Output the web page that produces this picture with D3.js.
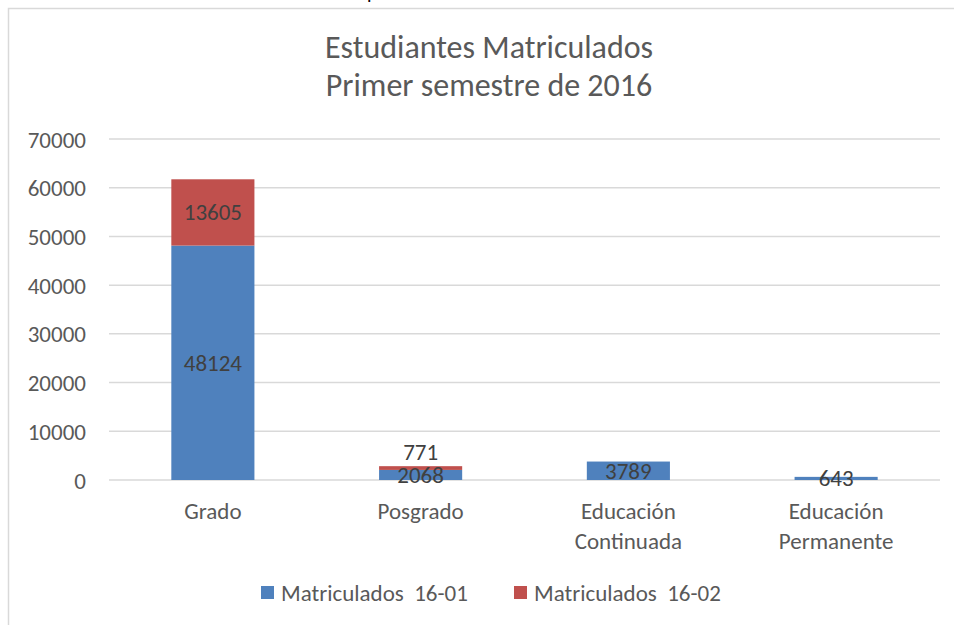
<!DOCTYPE html>
<html><head><meta charset="utf-8">
<script src="https://cdn.jsdelivr.net/npm/d3@7"></script>
<style>
html,body{margin:0;padding:0;background:#fff;overflow:hidden}
text{font-family:Carlito,Calibri,"Liberation Sans Narrow","Open Sans",sans-serif}
</style></head>
<body>
<svg id="c" width="954" height="625"></svg>
<script>
const categories = [["Grado"],["Posgrado"],["Educación","Continuada"],["Educación","Permanente"]];
const seriesNames = ["Matriculados  16-01","Matriculados  16-02"];
const series1 = [48124, 2068, 3789, 643];
const series2 = [13605, 771, 0, 0];
const yTicks = [0,10000,20000,30000,40000,50000,60000,70000];
const titleLines = ["Estudiantes Matriculados","Primer semestre de 2016"];
const colors = ["#4f81bd","#c0504d"];

const FS = 23;
const svg = d3.select("#c");
// chart frame
svg.append("rect").attr("x",8.5).attr("y",8.5).attr("width",960).attr("height",640)
  .attr("fill","#fff").attr("stroke","#d9d9d9").attr("stroke-width",1.5);
// descender of text above the frame
svg.append("text").attr("x",367).attr("y",-1).attr("font-size",20).attr("fill","#000").text("p");

const x = d3.scaleBand().domain(d3.range(categories.length)).range([109,940]).paddingInner(0.6).paddingOuter(0.3);
const y = d3.scaleLinear().domain([0,70000]).range([480,139]);

// gridlines
svg.append("g").selectAll("line").data(yTicks).join("line")
  .attr("x1",109).attr("x2",940).attr("y1",d=>y(d)).attr("y2",d=>y(d))
  .attr("stroke","#d9d9d9").attr("stroke-width",1.5);

// y axis labels
const yAxis = d3.axisLeft(y).tickValues(yTicks).tickSize(0).tickPadding(0).tickFormat(d3.format("d"));
const ga = svg.append("g").attr("transform","translate(86,0)").call(yAxis);
ga.select(".domain").remove();
ga.selectAll("text").attr("font-size",FS).attr("fill","#595959").attr("font-family",null).attr("dy","0.35em");

// stacks
const data = categories.map((c,i)=>({i, v:[series1[i],series2[i]]}));
const stackData = d3.stack().keys([0,1]).value((d,k)=>d.v[k])(data);
const gBars = svg.append("g");
stackData.forEach((s,k)=>{
  gBars.selectAll(null).data(s.filter(d=>d[1]-d[0]>0)).join("rect")
    .attr("x",d=>x(d.data.i)).attr("width",x.bandwidth())
    .attr("y",d=>y(d[1])).attr("height",d=>y(d[0])-y(d[1]))
    .attr("fill",colors[k]);
});
// data labels
stackData.forEach((s,k)=>{
  svg.append("g").selectAll("text").data(s.filter(d=>d[1]-d[0]>0)).join("text")
    .attr("x",d=>x(d.data.i)+x.bandwidth()/2)
    .attr("y",d=>{
      const mid=(y(d[0])+y(d[1]))/2;
      const h=y(d[0])-y(d[1]);
      return (k===1 && h<18) ? y(d[1])-14 : mid;
    })
    .attr("dy","0.35em").attr("text-anchor","middle")
    .attr("font-size",FS).attr("fill","#404040")
    .text(d=>d[1]-d[0]);
});

// category labels
const gc = svg.append("g");
categories.forEach((lines,i)=>{
  const t = gc.append("text").attr("text-anchor","middle").attr("font-size",FS).attr("fill","#595959")
    .attr("x",x(i)+x.bandwidth()/2).attr("y",519);
  lines.forEach((l,j)=>t.append("tspan").attr("x",x(i)+x.bandwidth()/2).attr("dy",j?30:0).text(l));
});

// title
const tt = svg.append("text").attr("text-anchor","middle").attr("font-size",32).attr("fill","#595959");
titleLines.forEach((l,j)=>tt.append("tspan").attr("x",489).attr("y",58+j*38).text(l));

// legend
const legX = [261,514];
seriesNames.forEach((n,k)=>{
  svg.append("rect").attr("x",legX[k]).attr("y",586).attr("width",13).attr("height",13).attr("fill",colors[k]);
  svg.append("text").attr("x",legX[k]+20).attr("y",592.5).attr("dy","0.35em").attr("font-size",FS)
    .attr("fill","#595959").attr("xml:space","preserve").style("white-space","pre").text(n);
});
</script>
</body></html>
